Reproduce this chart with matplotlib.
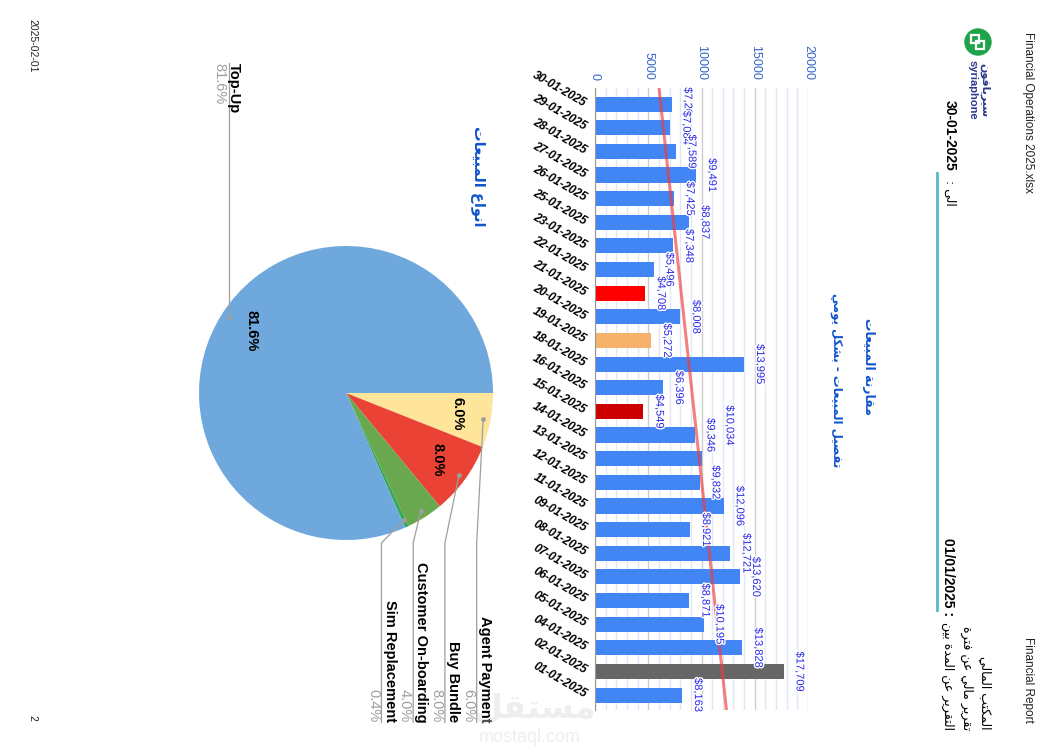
import numpy as np
import matplotlib
matplotlib.use("Agg")
import matplotlib.pyplot as plt
import matplotlib.patheffects as pe
from matplotlib.patches import Circle, Rectangle

plt.rcParams["font.family"] = ["Liberation Sans", "DejaVu Sans"]

W, H = 1061, 750

# daily sales, top (latest) to bottom
dates = ["30-01-2025", "29-01-2025", "28-01-2025", "27-01-2025", "26-01-2025",
         "25-01-2025", "23-01-2025", "22-01-2025", "21-01-2025", "20-01-2025",
         "19-01-2025", "18-01-2025", "16-01-2025", "15-01-2025", "14-01-2025",
         "13-01-2025", "12-01-2025", "11-01-2025", "09-01-2025", "08-01-2025",
         "07-01-2025", "06-01-2025", "05-01-2025", "04-01-2025", "02-01-2025",
         "01-01-2025"]
sales = [7204, 7084, 7589, 9491, 7425, 8837, 7348, 5496, 4708, 8008,
         5272, 13995, 6396, 4549, 9346, 10034, 9832, 12096, 8921, 12721,
         13620, 8871, 10195, 13828, 17709, 8163]
highlight = {"21-01-2025": "#ff0000", "19-01-2025": "#f6b26b",
             "15-01-2025": "#cc0000", "02-01-2025": "#666666"}

# sales types
types = ["Agent Payment", "Buy Bundle", "Customer On-boarding", "Sim Replacement", "Top-Up"]
shares = [6.0, 8.0, 4.0, 0.4, 81.6]
pie_colors = ["#ffe599", "#ea4335", "#6aa84f", "#34a853", "#6fa8dc"]

# --- simple arabic shaping (visual order, presentation forms) ---
DUAL = {"ب": 0xFE8F, "ت": 0xFE95, "ث": 0xFE99, "ج": 0xFE9D, "ح": 0xFEA1, "خ": 0xFEA5,
        "س": 0xFEB1, "ش": 0xFEB5, "ص": 0xFEB9, "ض": 0xFEBD, "ط": 0xFEC1, "ظ": 0xFEC5,
        "ع": 0xFEC9, "غ": 0xFECD, "ف": 0xFED1, "ق": 0xFED5, "ك": 0xFED9, "ل": 0xFEDD,
        "م": 0xFEE1, "ن": 0xFEE5, "ه": 0xFEE9, "ي": 0xFEF1}
RIGHT = {"ا": 0xFE8D, "أ": 0xFE83, "إ": 0xFE87, "آ": 0xFE81, "د": 0xFEA9, "ذ": 0xFEAB,
         "ر": 0xFEAD, "ز": 0xFEAF, "و": 0xFEED, "ى": 0xFEEF, "ة": 0xFE93}


def ar(s):
    out = []
    for i, c in enumerate(s):
        base = DUAL.get(c, RIGHT.get(c))
        if base is None:
            out.append(c)
            continue
        prev = s[i - 1] if i > 0 else ""
        nxt = s[i + 1] if i + 1 < len(s) else ""
        jp = prev in DUAL
        jn = c in DUAL and (nxt in DUAL or nxt in RIGHT)
        out.append(chr(base + (1 if jp else 0) + (2 if jn else 0)))
    return "".join(reversed(out))


def box(x0, y0, x1, y1):
    return [x0 / W, 1 - y1 / H, (x1 - x0) / W, (y1 - y0) / H]


fig = plt.figure(figsize=(W / 100, H / 100), dpi=100)

# ---------------- bar chart ----------------
ax = fig.add_axes(box(595, 88, 808, 710))
ax.set_facecolor("none")
y = np.arange(len(dates))
colors = [highlight.get(d, "#4285f4") for d in dates]
ax.barh(y, sales, height=0.64, color=colors, zorder=2)
ax.set_xlim(0, 20000)
ax.set_ylim(len(dates) - 0.37, -0.68)

ax.xaxis.tick_top()
ax.set_xticks(np.arange(0, 20001, 5000))
ax.set_xticks(np.arange(0, 20001, 1000), minor=True)
ax.tick_params(axis="x", which="both", length=0, pad=6, labelcolor="#3366cc",
               labelsize=9, labelrotation=-90)
ax.grid(axis="x", which="minor", color="#e1e7f7", lw=1, zorder=0)
ax.grid(axis="x", which="major", color="#cccccc", lw=1, zorder=0)
ax.set_axisbelow(True)

ax.set_yticks(y, dates)
ax.tick_params(axis="y", length=0, pad=7)
for lbl in ax.get_yticklabels():
    lbl.set(rotation=-30, ha="right", va="center", rotation_mode="anchor",
            fontweight="bold", fontstyle="italic", fontsize=8.5)
for s in ["top", "right", "bottom"]:
    ax.spines[s].set_visible(False)
ax.spines["left"].set_color("#999999")

for i, v in enumerate(sales):
    # the 13-01 label is pushed aside in the original to clear its neighbour
    off = (20, 24) if dates[i] == "13-01-2025" else (11.5, 0)
    ax.annotate(f"${v:,}", (v, i), xytext=off, textcoords="offset points",
                rotation=-90, ha="center", va="center", fontsize=8, color="#2a2ae6",
                path_effects=[pe.withStroke(linewidth=2, foreground="white")], zorder=4)

# trend line
k, b = np.polyfit(y, sales, 1)
yy = np.array(ax.get_ylim())
ax.plot(k * yy + b, yy, color="#f03c3c", alpha=0.65, lw=2.2, zorder=3)
ax.set_ylim(yy)

# ---------------- pie chart ----------------
cx, cy, r = 346, 393, 147
pax = fig.add_axes(box(cx - r, cy - r, cx + r, cy + r))
wedges, _, autotexts = pax.pie(shares, colors=pie_colors, startangle=0, counterclock=False,
                               autopct=lambda p: f"{p:.1f}%" if p >= 5 else "",
                               pctdistance=0.77,
                               textprops=dict(fontsize=10.5, fontweight="bold"))
for t in autotexts:
    t.set_rotation(-90)
pax.set_xlim(-1, 1)
pax.set_ylim(-1, 1)
pax.set_aspect("equal")

gray = "#9e9e9e"
for i, w in enumerate(wedges):
    mid = np.deg2rad((w.theta1 + w.theta2) / 2)
    dx, dy = 0.95 * np.cos(mid), 0.95 * np.sin(mid)
    pax.plot([dx], [dy], "o", ms=2.5, color=gray, clip_on=False)
    if types[i] == "Top-Up":
        top = 2.245
        pax.plot([dx, dx], [dy, top], color=gray, lw=0.9, clip_on=False)
        pax.text(dx + 0.035, top, types[i], rotation=-90, ha="center", va="top",
                 fontsize=10.5, fontweight="bold")
        pax.text(dx - 0.068, top, f"{shares[i]:.1f}%", rotation=-90, ha="center",
                 va="top", fontsize=10.5, color=gray)
    else:
        rx = 0.889 - 0.216 * i
        pax.plot([dx, rx, rx], [dy, -1.02, -2.24], color=gray, lw=0.9, clip_on=False)
        pax.text(rx + 0.056, -2.24, types[i], rotation=-90, ha="center", va="bottom",
                 fontsize=10.5, fontweight="bold")
        pax.text(rx - 0.058, -2.24, f"{shares[i]:.1f}%", rotation=-90, ha="center",
                 va="bottom", fontsize=10.5, color=gray)

# ---------------- page texts ----------------
ov = fig.add_axes([0, 0, 1, 1], zorder=5)
ov.set_xlim(0, W)
ov.set_ylim(H, 0)
ov.axis("off")

rot = dict(rotation=-90, ha="center")
ov.text(1028, 32, "Financial Operations 2025.xlsx", va="top", fontsize=8.5, color="#222222", **rot)
ov.text(1028, 723, "Financial Report", va="bottom", fontsize=8.5, color="#222222", **rot)
ov.text(32, 19, "2025-02-01", va="top", fontsize=7.5, color="#222222", **rot)
ov.text(32, 718, "2", va="center", fontsize=7.5, color="#222222", **rot)

# logo
ov.add_patch(Circle((978, 42), 13, color="#1fa34a"))
ov.add_patch(Rectangle((971, 35), 8, 8, fill=False, ec="white", lw=1.6))
ov.add_patch(Rectangle((976, 41), 8, 8, fill=False, ec="white", lw=1.6))
ov.text(985, 90, ar("سيريافون"), va="center", fontsize=8, fontweight="bold",
        color="#2b3990", family="DejaVu Sans", **rot)
ov.text(973, 90, "syriaphone", va="center", fontsize=8, fontweight="bold",
        color="#2b3990", **rot)

ov.text(950, 100, "30-01-2025", va="top", fontsize=10, fontweight="bold", **rot)
ov.text(950, 206, ": " + ar("الى"), va="bottom", fontsize=9, family="DejaVu Sans", **rot)
ov.plot([937, 937], [173, 610], color="#56b9c9", lw=2)
ov.text(948, 538, "01/01/2025 :", va="top", fontsize=10, fontweight="bold", **rot)
ov.text(948, 730, ar("التقرير عن المدة بين"), va="bottom", fontsize=9,
        family="DejaVu Sans", **rot)
ov.text(967, 730, ar("تقرير مالي عن فترة"), va="bottom", fontsize=9,
        family="DejaVu Sans", **rot)
ov.text(985, 730, ar("المكتب المالي"), va="bottom", fontsize=9,
        family="DejaVu Sans", **rot)

title_c = "#1155cc"
ov.text(868, 366, ar("مقارنة المبيعات"), va="center", fontsize=9, fontweight="bold",
        color=title_c, family="DejaVu Sans", **rot)
ov.text(836, 380, ar("تفصيل المبيعات - بشكل يومي"), va="center", fontsize=8.5,
        fontweight="bold", color=title_c, family="DejaVu Sans", **rot)
ov.text(478, 176, ar("انواع المبيعات"), va="center", fontsize=10.5, fontweight="bold",
        color=title_c, family="DejaVu Sans", **rot)

# watermark
ov.text(535, 708, ar("مستقل"), ha="center", va="center", fontsize=24, fontweight="bold",
        color="#d0d0d0", alpha=0.35, family="DejaVu Sans")
ov.text(530, 737, "mostaql.com", ha="center", va="center", fontsize=13,
        color="#d0d0d0", alpha=0.35)

fig.savefig("out.png", dpi=100)
